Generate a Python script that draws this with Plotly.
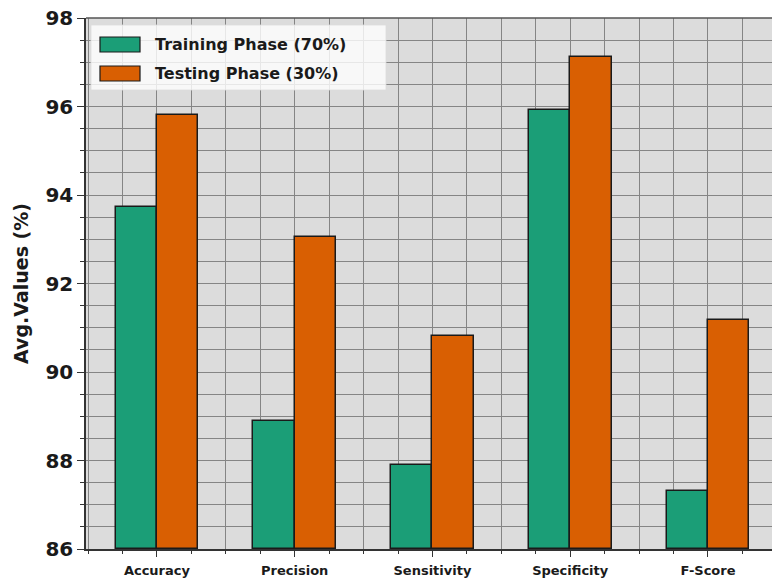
import plotly.graph_objects as go

categories = ["Accuracy", "Precision", "Sensitivity", "Specificity", "F-Score"]
training = [93.74, 88.90, 87.90, 95.93, 87.32]
testing = [95.81, 93.04, 90.81, 97.11, 91.18]
series_names = ["Training Phase (70%)", "Testing Phase (30%)"]
colors = ["#1b9e77", "#d95f02"]
y_ticks = [86, 88, 90, 92, 94, 96, 98]

W, H = 772, 581
ML, MT, MB, MR = 86, 18, 32, 0
FONT = "DejaVu Sans"

pos = list(range(len(categories)))
bar_w = 0.3

fig = go.Figure()
for vals, name, col, off in [(training, series_names[0], colors[0], -bar_w / 2),
                             (testing, series_names[1], colors[1], bar_w / 2)]:
    fig.add_trace(go.Bar(
        x=[p + off for p in pos], y=[v - 86 for v in vals], base=86,
        width=bar_w, name=name, marker=dict(color=col, line=dict(color="#1a1a1a", width=1.5)),
        showlegend=False,
    ))

grid_col = "#858585"
fig.update_layout(
    width=W, height=H,
    margin=dict(l=ML, r=MR, t=MT, b=MB, pad=0),
    paper_bgcolor="white", plot_bgcolor="#dcdcdc",
    font=dict(family=FONT, color="#1a1a1a"),
    bargap=0,
    xaxis=dict(
        range=[-0.515, 4.465], tickvals=pos, ticktext=[f"<b>{c}</b>" for c in categories],
        tickfont=dict(size=13, family=FONT, color="#1a1a1a"),
        showgrid=True, gridcolor=grid_col, gridwidth=1,
        ticks="outside", ticklen=6, tickcolor="#333", tickwidth=1,
        ticklabelstandoff=3,
        minor=dict(dtick=0.25, tick0=0, showgrid=True, gridcolor=grid_col, gridwidth=1,
                   ticks="outside", ticklen=3, tickcolor="#333"),
        showline=True, linecolor="#333", linewidth=1.5, mirror=False, zeroline=False,
    ),
    yaxis=dict(
        range=[86, 98], tickvals=y_ticks, ticktext=[f"<b>{t}</b>" for t in y_ticks],
        tickfont=dict(size=20, family=FONT, color="#1a1a1a"),
        showgrid=True, gridcolor=grid_col, gridwidth=1,
        ticks="outside", ticklen=7, tickcolor="#333", tickwidth=1,
        minor=dict(dtick=0.5, tick0=86, showgrid=True, gridcolor=grid_col, gridwidth=1,
                   ticks="outside", ticklen=4, tickcolor="#333"),
        showline=True, linecolor="#333", linewidth=1.5, mirror=False, zeroline=False,
        title=dict(text="<b>Avg.Values (%)</b>", font=dict(size=19, family=FONT, color="#1a1a1a"),
                   standoff=12),
    ),
)

# top border of the plotting area
fig.add_shape(type="line", xref="paper", yref="paper", x0=0, x1=1, y0=1, y1=1,
              line=dict(color="#555", width=1.5))

# legend box, drawn in pixel offsets from the plot area's top-left corner
pw = W - ML - MR
ph = H - MT - MB


def px(x):
    return (x - ML) / pw


def py(y):
    return 1 - (y - MT) / ph


fig.add_shape(type="rect", xref="paper", yref="paper",
              x0=px(91), x1=px(386), y0=py(25), y1=py(90),
              fillcolor="rgba(255,255,255,0.8)", line=dict(color="rgba(220,220,220,0.8)", width=1),
              layer="above")
for i, (name, col) in enumerate(zip(series_names, colors)):
    yc = 44.5 + i * 29
    fig.add_shape(type="rect", xref="paper", yref="paper",
                  x0=px(100), x1=px(140), y0=py(yc - 7.5), y1=py(yc + 7.5),
                  fillcolor=col, line=dict(color="#1a1a1a", width=1.2), layer="above")
    fig.add_annotation(xref="paper", yref="paper", x=px(153), y=py(yc), xanchor="left",
                       yanchor="middle", showarrow=False, text=f"<b>{name}</b>",
                       font=dict(size=16, family=FONT, color="#1a1a1a"))

fig.write_html("out.html")
